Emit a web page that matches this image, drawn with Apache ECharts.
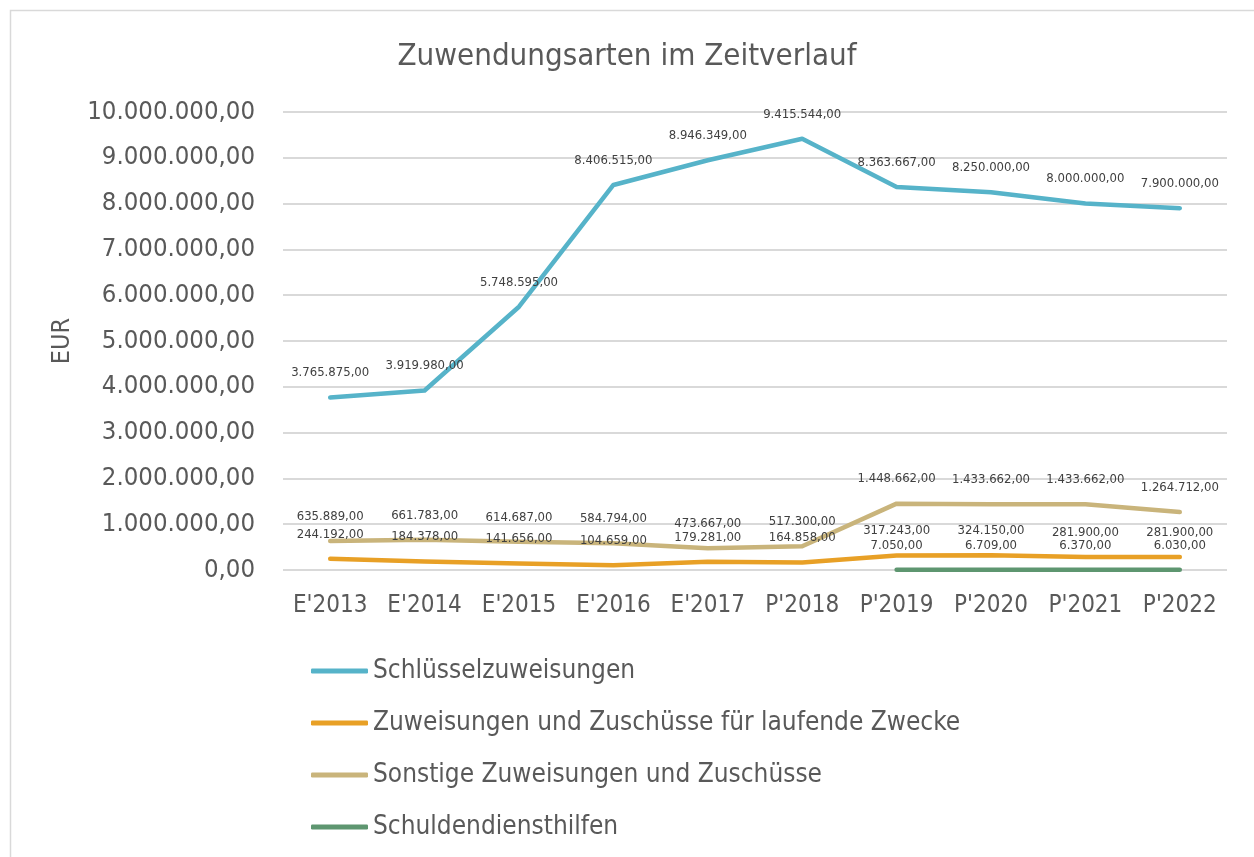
<!DOCTYPE html>
<html>
<head>
<meta charset="utf-8">
<script src="https://cdn.jsdelivr.net/npm/echarts@6/dist/echarts.min.js"></script>
<style>
  html, body { margin: 0; padding: 0; background: #fff; }
  #chart { width: 1254px; height: 857px; }
</style>
</head>
<body>
<div id="chart"></div>
<script>
const categories = ["E'2013", "E'2014", "E'2015", "E'2016", "E'2017", "P'2018", "P'2019", "P'2020", "P'2021", "P'2022"];
const schluessel = [3765875, 3919980, 5748595, 8406515, 8946349, 9415544, 8363667, 8250000, 8000000, 7900000];
const laufend = [244192, 184378, 141656, 104659, 179281, 164858, 317243, 324150, 281900, 281900];
const sonstige = [635889, 661783, 614687, 584794, 473667, 517300, 1448662, 1433662, 1433662, 1264712];
const schulden = [null, null, null, null, null, null, 7050, 6709, 6370, 6030];

const fontFam = '"Liberation Sans Narrow", "DejaVu Sans Condensed", "Liberation Sans", sans-serif';

const fmt = (v) => {
  const parts = Number(v).toFixed(2).split(".");
  parts[0] = parts[0].replace(/\B(?=(\d{3})+(?!\d))/g, ".");
  return parts[0] + "," + parts[1];
};

const chart = echarts.init(document.getElementById("chart"), null, { renderer: "canvas" });

const mkSeries = (name, data, color) => ({
  name: name,
  type: "line",
  data: data,
  symbol: "circle",
  symbolSize: 0.1,
  showSymbol: true,
  lineStyle: { width: 4.5, color: color, cap: "round", join: "round" },
  itemStyle: { color: color },
  label: {
    show: true,
    position: "top",
    distance: 18,
    fontFamily: fontFam,
    fontSize: 13,
    color: "#404040",
    formatter: (p) => fmt(p.value),
  },
  labelLayout: { hideOverlap: false },
  connectNulls: false,
});

chart.setOption({
  animation: false,
  textStyle: { fontFamily: fontFam },
  graphic: [{
    type: "rect",
    shape: { x: 10.5, y: 10.5, width: 1250, height: 850 },
    style: { fill: "none", stroke: "#d9d9d9", lineWidth: 1.5 },
    silent: true,
  }],
  title: {
    text: "Zuwendungsarten im Zeitverlauf",
    left: "center",
    top: 36,
    textStyle: { fontFamily: fontFam, fontSize: 31, fontWeight: "normal", color: "#595959" },
  },
  grid: { left: 283, right: 27, top: 112, bottom: 287 },
  xAxis: {
    type: "category",
    data: categories,
    boundaryGap: true,
    axisLine: { show: false },
    axisTick: { show: false },
    axisLabel: { interval: 0, fontFamily: fontFam, fontSize: 24, color: "#595959", margin: 24 },
  },
  yAxis: {
    type: "value",
    min: 0,
    max: 10000000,
    interval: 1000000,
    name: "EUR",
    nameLocation: "middle",
    nameGap: 208,
    nameRotate: 90,
    nameTextStyle: { fontFamily: fontFam, fontSize: 25, color: "#595959" },
    axisLine: { show: false },
    axisTick: { show: false },
    axisLabel: { fontFamily: fontFam, fontSize: 25.5, color: "#595959", margin: 28, formatter: (v) => fmt(v) },
    splitLine: { lineStyle: { color: "#d9d9d9", width: 2 } },
  },
  legend: {
    orient: "vertical",
    left: 306,
    top: 653,
    itemWidth: 57,
    itemHeight: 5,
    itemGap: 26,
    icon: "roundRect",
    textStyle: { fontFamily: fontFam, fontSize: 26, color: "#595959" },
    data: ["Schlüsselzuweisungen", "Zuweisungen und Zuschüsse für laufende Zwecke", "Sonstige Zuweisungen und Zuschüsse", "Schuldendiensthilfen"],
  },
  series: [
    mkSeries("Schlüsselzuweisungen", schluessel, "#56B3C9"),
    mkSeries("Zuweisungen und Zuschüsse für laufende Zwecke", laufend, "#E8A026"),
    mkSeries("Sonstige Zuweisungen und Zuschüsse", sonstige, "#C9B47B"),
    mkSeries("Schuldendiensthilfen", schulden, "#5E9670"),
  ],
});
</script>
</body>
</html>
